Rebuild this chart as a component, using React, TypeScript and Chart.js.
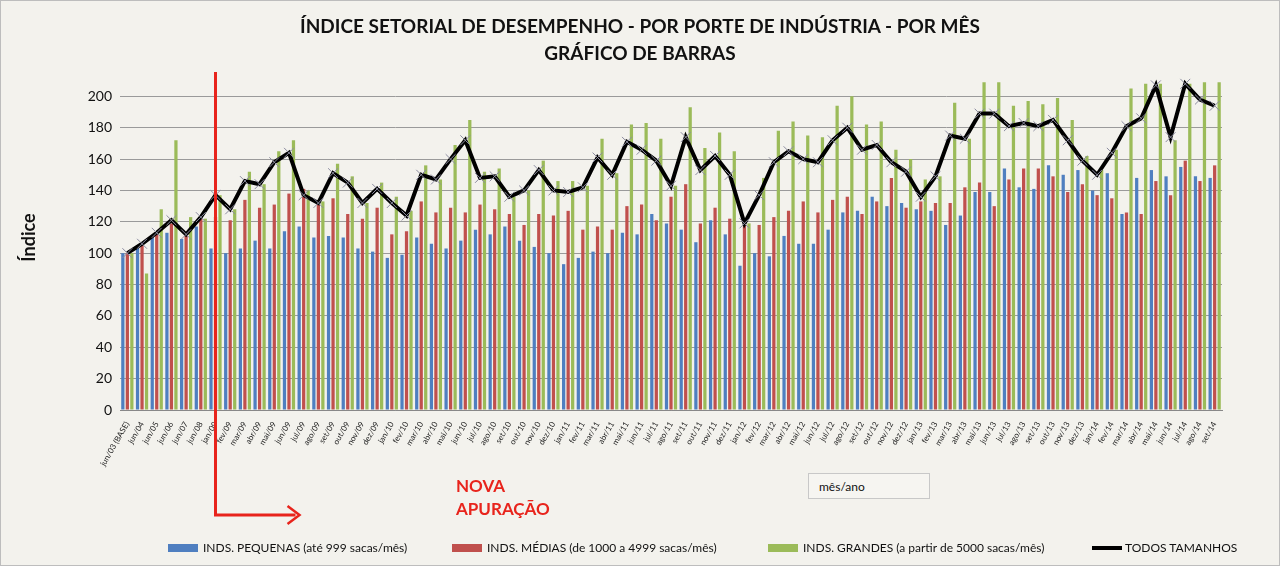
import React, { useEffect, useRef } from "react";
import { Chart, registerables } from "chart.js";
Chart.register(...registerables);

const months = ["jan","fev","mar","abr","mai","jun","jul","ago","set","out","nov","dez"];
const categories: string[] = ["jun/03 (BASE)", "jun/04", "jun/05", "jun/06", "jun/07", "jun/08", "jan/09"];
for (let y = 9; y <= 14; y++) {
  for (let m = 0; m < 12; m++) {
    if (y === 9 && m === 0) continue;
    if (y === 14 && m > 8) break;
    categories.push(months[m] + "/" + String(y).padStart(2, "0"));
  }
}

const pequenas = [100,104,111,113,109,117,103,100,103,108,103,114,117,110,111,110,103,101,97,99,110,106,103,108,115,112,117,108,104,100,93,97,101,100,113,112,125,119,115,107,121,112,92,100,98,111,106,106,115,126,127,136,130,132,128,127,118,124,139,139,154,142,141,156,150,153,140,151,125,148,153,149,155,149,148];
const medias = [100,106,112,119,112,122,123,121,134,129,131,138,141,132,135,125,122,129,112,114,133,126,129,126,131,128,125,118,125,124,127,115,117,115,130,131,121,136,144,119,129,122,118,118,123,127,133,126,134,136,125,133,148,129,133,132,132,142,145,130,147,154,154,149,139,144,137,135,126,125,146,137,159,146,156];
const grandes = [100,87,128,172,123,122,137,128,152,144,165,172,140,133,157,149,132,145,136,127,156,147,169,185,152,154,136,140,159,146,146,143,173,151,182,183,173,143,193,167,177,165,119,148,178,184,175,174,194,200,182,184,166,160,147,149,196,173,209,209,194,197,195,199,185,162,153,166,205,208,208,172,208,209,209];
const todos = [100,106,113,121,112,123,137,128,146,144,158,164,137,132,151,145,132,141,132,124,150,147,160,172,148,149,136,140,153,140,139,142,161,150,171,166,159,143,174,153,162,150,119,137,158,165,160,158,172,180,166,169,158,152,136,149,175,173,189,189,181,183,181,185,172,159,150,164,181,186,207,174,208,198,194];

const FONT = "Lato, 'Open Sans', sans-serif";

const annotPlugin = {
  id: "annot",
  beforeDraw(chart: any) {
    const c = chart.ctx;
    c.save();
    c.fillStyle = "#f3f2ed";
    c.fillRect(0, 0, chart.width, chart.height);
    c.restore();
  },
  afterDraw(chart: any) {
    const c = chart.ctx;
    const x = chart.scales.x.getPixelForValue(6);
    c.save();
    c.strokeStyle = "#e8241c";
    c.fillStyle = "#e8241c";
    c.lineWidth = 3;
    c.beginPath();
    c.moveTo(x, 72);
    c.lineTo(x, 515);
    c.lineTo(x + 80, 515);
    c.stroke();
    c.lineWidth = 2.5;
    c.beginPath();
    c.moveTo(x + 72, 506);
    c.lineTo(x + 84, 515);
    c.lineTo(x + 72, 524);
    c.stroke();
    c.restore();
  },
};

export default function App() {
  const ref = useRef<HTMLCanvasElement>(null);
  useEffect(() => {
    document.body.style.margin = "0";
    const chart = new Chart(ref.current!, {
      type: "bar",
      data: {
        labels: categories,
        datasets: [
          { type: "line", label: "TODOS TAMANHOS", data: todos, borderColor: "#000", borderWidth: 4, pointStyle: "crossRot", pointRadius: 7, pointBorderColor: "#8c8ca0", pointBorderWidth: 1, pointBackgroundColor: "#8c8ca0", order: 0, tension: 0 } as any,
          { label: "pequenas", data: pequenas, backgroundColor: "#4f7fc0", order: 1, categoryPercentage: 0.92, barPercentage: 0.72 },
          { label: "medias", data: medias, backgroundColor: "#c0504d", order: 1, categoryPercentage: 0.92, barPercentage: 0.72 },
          { label: "grandes", data: grandes, backgroundColor: "#9bbb59", order: 1, categoryPercentage: 0.92, barPercentage: 0.72 },
        ],
      },
      options: {
        animation: false,
        responsive: false,
        layout: { padding: { left: 0, right: 58, top: 65, bottom: 96 } },
        plugins: { legend: { display: false }, tooltip: { enabled: false } },
        scales: {
          x: {
            grid: { display: false },
            border: { color: "#888" },
            afterFit: (s: any) => { s.height = 60; },
            ticks: { autoSkip: false, maxRotation: 60, minRotation: 60, font: { family: FONT, size: 8 }, color: "#222", padding: 2 },
          },
          y: {
            min: 0, max: 220,
            afterFit: (s: any) => { s.width = 120; },
            border: { display: false },
            grid: { color: (ctx: any) => (ctx.tick && ctx.tick.value === 220 ? "rgba(0,0,0,0)" : "#9a9a9a"), drawTicks: false },
            ticks: { stepSize: 20, padding: 8, font: { family: FONT, size: 14 }, color: "#111", callback: (v: any) => (v === 220 ? "" : v) },
            title: { display: true, text: "Índice", font: { family: FONT, size: 18, weight: "bold" }, color: "#111", padding: { top: 18, bottom: 0 } },
          },
        },
      },
      plugins: [annotPlugin],
    });
    return () => chart.destroy();
  }, []);

  const legendItem = (left: number, color: string, text: string, line = false) => (
    <div style={{ position: "absolute", left, top: 540, display: "flex", alignItems: "center", fontFamily: FONT, fontSize: 12, color: "#111" }}>
      {line ? (
        <div style={{ width: 30, height: 4, background: "#000", marginRight: 3 }} />
      ) : (
        <div style={{ width: 30, height: 8, background: color, marginRight: 5 }} />
      )}
      {text}
    </div>
  );

  return (
    <div style={{ position: "relative", width: 1280, height: 566, overflow: "hidden" }}>
      <canvas ref={ref} width={1280} height={566} style={{ display: "block" }} />
      <div style={{ position: "absolute", left: 0, width: 1280, top: 12, textAlign: "center", fontFamily: FONT, fontWeight: "bold", fontSize: 19, lineHeight: "27px", color: "#111" }}>
        ÍNDICE SETORIAL DE DESEMPENHO - POR PORTE DE INDÚSTRIA - POR MÊS<br />GRÁFICO DE BARRAS
      </div>
      <div style={{ position: "absolute", left: 456, top: 474, fontFamily: FONT, fontWeight: "bold", fontSize: 17, lineHeight: "23px", color: "#e8241c" }}>
        NOVA<br />APURAÇÃO
      </div>
      <div style={{ position: "absolute", left: 808, top: 473, width: 122, height: 26, border: "1px solid #c8c8c8", background: "#f6f5f1", fontFamily: FONT, fontSize: 12, lineHeight: "26px", boxSizing: "border-box", paddingLeft: 10, color: "#111" }}>
        mês/ano
      </div>
      {legendItem(168, "#4f7fc0", "INDS. PEQUENAS (até 999 sacas/mês)")}
      {legendItem(452, "#c0504d", "INDS. MÉDIAS (de 1000 a 4999 sacas/mês)")}
      {legendItem(768, "#9bbb59", "INDS. GRANDES (a partir de 5000 sacas/mês)")}
      {legendItem(1092, "#000", "TODOS TAMANHOS", true)}
      <div style={{ position: "absolute", inset: 0, border: "1px solid #bdbdbd", pointerEvents: "none" }} />
    </div>
  );
}
